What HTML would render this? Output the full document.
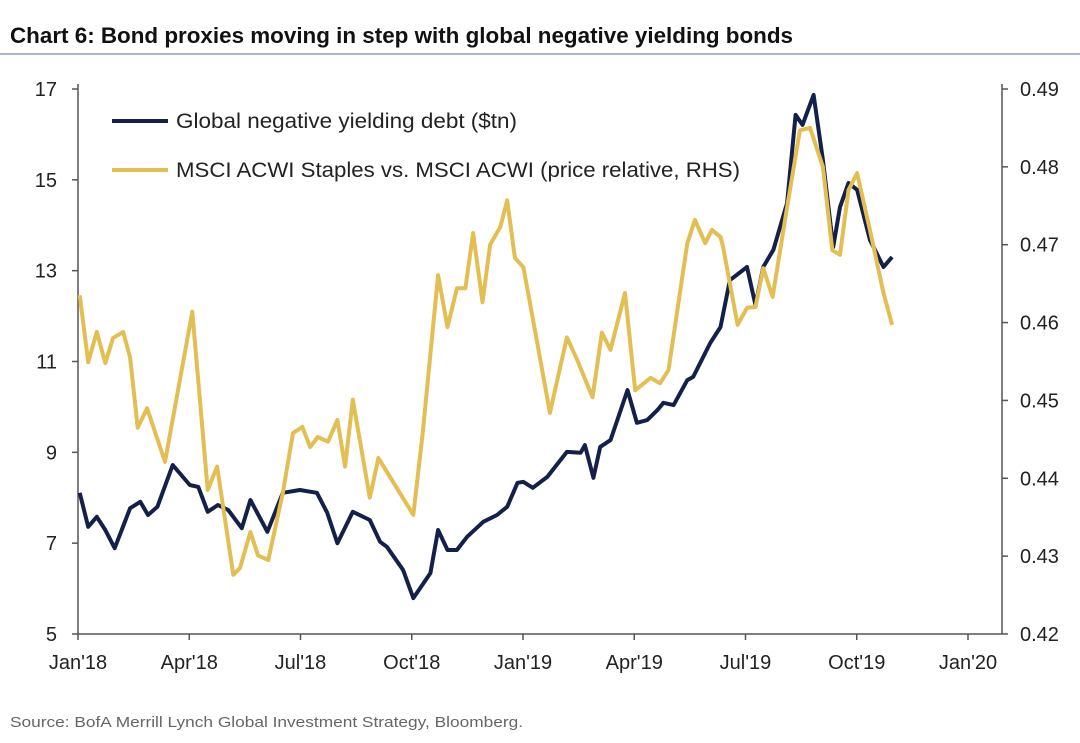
<!DOCTYPE html>
<html><head><meta charset="utf-8"><style>
body{margin:0;background:#fff;width:1080px;height:743px;overflow:hidden;font-family:"Liberation Sans",sans-serif}
svg{display:block}
</style></head><body>
<svg width="1080" height="743" viewBox="0 0 1080 743">
<text x="10" y="43" font-size="22" font-weight="bold" fill="#111" textLength="783" lengthAdjust="spacingAndGlyphs">Chart 6: Bond proxies moving in step with global negative yielding bonds</text>
<line x1="0" y1="54" x2="1080" y2="54" stroke="#8aa0b8" stroke-width="1.5"/>
<g id="axes"></g>
<g id="lines"></g>
<g>
<line x1="112" y1="121" x2="168" y2="121" stroke="#13214a" stroke-width="4"/>
<text x="176" y="128" font-size="21" fill="#222" textLength="341" lengthAdjust="spacingAndGlyphs">Global negative yielding debt ($tn)</text>
<line x1="112" y1="170" x2="168" y2="170" stroke="#e3be52" stroke-width="4"/>
<text x="176" y="177" font-size="21" fill="#222" textLength="564" lengthAdjust="spacingAndGlyphs">MSCI ACWI Staples vs. MSCI ACWI (price relative, RHS)</text>
</g>
<text x="10" y="727" font-size="15" fill="#666" textLength="513" lengthAdjust="spacingAndGlyphs">Source: BofA Merrill Lynch Global Investment Strategy, Bloomberg.</text>
</svg>
<script>
const leftTicks=[5,7,9,11,13,15,17];
const rightTicks=["0.42","0.43","0.44","0.45","0.46","0.47","0.48","0.49"];
const xLabels=["Jan'18","Apr'18","Jul'18","Oct'18","Jan'19","Apr'19","Jul'19","Oct'19","Jan'20"];
const debtWeeks=[0.2,1.2,2.2,3.2,4.3,6.1,7.3,8.2,9.3,11.1,13.1,14.1,15.2,16.4,17.6,19.2,20.2,22.2,24.0,26.0,28.0,29.2,30.4,32.2,34.2,35.4,36.2,38.1,39.3,41.3,42.2,43.3,44.4,45.6,47.5,49.1,50.3,51.5,52.2,53.3,55.0,57.3,58.9,59.4,60.4,61.2,62.4,64.4,65.5,66.7,67.9,68.6,69.8,71.4,72.1,74.1,75.3,76.4,78.4,79.4,80.3,81.5,83.1,84.1,84.9,86.2,87.3,88.5,89.3,90.3,91.3,92.8,94.4,95.4];
const debtValues=[8.11,7.36,7.58,7.29,6.89,7.77,7.91,7.62,7.80,8.72,8.28,8.24,7.69,7.84,7.73,7.33,7.95,7.25,8.11,8.17,8.11,7.67,7.00,7.69,7.51,7.03,6.92,6.41,5.79,6.34,7.29,6.85,6.85,7.14,7.47,7.62,7.80,8.33,8.35,8.22,8.46,9.01,8.99,9.16,8.44,9.12,9.27,10.37,9.65,9.71,9.93,10.09,10.04,10.59,10.66,11.41,11.76,12.79,13.08,12.24,13.08,13.46,14.49,16.43,16.21,16.87,15.44,13.52,14.40,14.93,14.78,13.68,13.08,13.30];
const staplesWeeks=[0.2,1.2,2.2,3.2,4.1,5.3,6.1,7.0,8.1,10.2,13.4,15.2,16.3,18.2,19.0,20.2,21.1,22.3,24.0,25.2,26.3,27.2,28.1,29.3,30.4,31.3,32.2,34.2,35.2,39.3,40.4,42.2,43.3,44.4,45.4,46.3,47.4,48.3,49.5,50.3,51.2,52.2,53.6,55.3,57.3,58.5,60.3,61.4,62.4,64.1,65.3,67.1,68.2,69.2,71.4,72.3,73.5,74.3,75.3,75.6,77.3,78.4,79.4,80.3,81.4,83.1,84.6,85.8,87.3,88.4,89.3,90.3,91.3,92.8,94.4,95.4];
const staplesValues=[0.4635,0.4549,0.4588,0.4548,0.4580,0.4588,0.4555,0.4465,0.4490,0.4421,0.4614,0.4385,0.4415,0.4276,0.4285,0.4331,0.4301,0.4295,0.4381,0.4458,0.4466,0.4440,0.4453,0.4447,0.4475,0.4415,0.4501,0.4375,0.4426,0.4353,0.4458,0.4661,0.4594,0.4644,0.4644,0.4715,0.4626,0.4700,0.4723,0.4757,0.4683,0.4671,0.4587,0.4484,0.4581,0.4552,0.4504,0.4587,0.4565,0.4638,0.4513,0.4529,0.4522,0.4539,0.4702,0.4732,0.4702,0.4719,0.4710,0.4697,0.4597,0.4619,0.4620,0.4670,0.4633,0.4748,0.4847,0.4850,0.4800,0.4693,0.4687,0.4770,0.4792,0.4719,0.4638,0.4597];

const X0=78,X1=1002,Y0=634,Y1=89,QW=111.25;
const xW=w=>X0+w*(890/104.3);
const yL=v=>Y0-(v-5)/12*(Y0-Y1);
const yR=v=>Y0-(v-0.42)/0.07*(Y0-Y1);
const NS='http://www.w3.org/2000/svg';
const axes=document.getElementById('axes'),lines=document.getElementById('lines');
function mk(tag,attrs,parent){const e=document.createElementNS(NS,tag);for(const k in attrs)e.setAttribute(k,attrs[k]);parent.appendChild(e);return e;}
const la=mk('line',{x1:X0,y1:Y1-5,x2:X0,y2:Y0,stroke:'#555','stroke-width':1.5},axes);


const ra=mk('line',{x1:X1,y1:Y1-5,x2:X1,y2:Y0,stroke:'#555','stroke-width':1.5},axes);


const ba=mk('line',{x1:X0,y1:Y0,x2:X1,y2:Y0,stroke:'#555','stroke-width':1.5},axes);


leftTicks.forEach(v=>{
  const y=yL(v);
  const t=mk('line',{x1:X0-6,y1:y,x2:X0,y2:y,stroke:'#555','stroke-width':1.5},axes);
  
  
  const tx=mk('text',{x:57,y:y+7,'font-size':20,'text-anchor':'end',fill:'#222'},axes);
  tx.textContent=v;
  
  
});
rightTicks.forEach(v=>{
  const y=yR(parseFloat(v));
  const t=mk('line',{x1:X1,y1:y,x2:X1+6,y2:y,stroke:'#555','stroke-width':1.5},axes);
  
  
  const tx=mk('text',{x:1020,y:y+7,'font-size':20,fill:'#222'},axes);
  tx.textContent=v;
  
  
});
xLabels.forEach((s,i)=>{
  const x=X0+i*QW;
  const t=mk('line',{x1:x,y1:Y0,x2:x,y2:Y0+6,stroke:'#555','stroke-width':1.5},axes);
  
  
  const tx=mk('text',{x:x,y:669,'font-size':20,'text-anchor':'middle',fill:'#222'},axes);
  tx.textContent=s;
  
  
});
const np=mk('polyline',{points:debtWeeks.map((w,i)=>xW(w).toFixed(1)+','+yL(debtValues[i]).toFixed(1)).join(' '),fill:'none',stroke:'#13214a','stroke-width':4,'stroke-linejoin':'round'},lines);


const gp=mk('polyline',{points:staplesWeeks.map((w,i)=>xW(w).toFixed(1)+','+yR(staplesValues[i]).toFixed(1)).join(' '),fill:'none',stroke:'#e3be52','stroke-width':4,'stroke-linejoin':'round'},lines);


</script>
</body></html>
